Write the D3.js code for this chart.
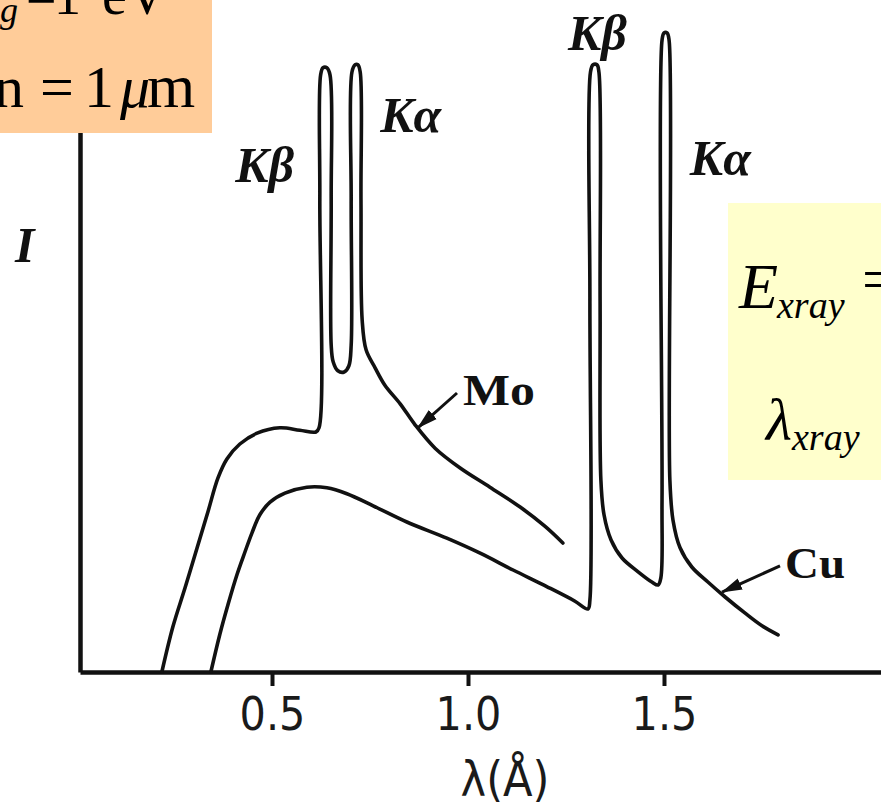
<!DOCTYPE html>
<html><head><meta charset="utf-8">
<script src="https://cdn.jsdelivr.net/npm/d3@7"></script>
<style>html,body{margin:0;padding:0;background:#fff;overflow:hidden}</style>
</head><body>
<svg id="chart" width="881" height="806"></svg>
<script>
// ---- data (wavelength in Å, intensity in arbitrary units) ----
const moSpectrum = [
  [0.219,0],[0.247,7.5],[0.278,14.0],[0.309,20.7],[0.337,26.8],[0.362,32.3],[0.385,35.5],[0.418,38.0],
  [0.462,39.8],[0.520,40.7],[0.571,40.3],[0.612,40.0],[0.620,40.7],[0.622,78.7],[0.624,99.5],[0.630,100.7],
  [0.640,100.7],[0.648,99.5],[0.651,78.7],[0.651,54.5],[0.656,51.7],[0.668,50.2],[0.684,50.0],[0.696,51.0],
  [0.702,54.5],[0.702,78.7],[0.704,100.0],[0.712,101.2],[0.719,101.2],[0.725,100.0],[0.727,78.7],[0.730,58.7],
  [0.740,53.7],[0.763,50.7],[0.788,47.8],[0.827,44.7],[0.865,41.2],[0.916,37.3],[0.980,34.0],[1.056,30.8],
  [1.133,27.5],[1.196,24.3],[1.242,21.5]
];
const cuSpectrum = [
  [0.344,0],[0.367,6.3],[0.388,11.3],[0.411,16.3],[0.431,20.0],[0.449,23.2],[0.469,26.2],[0.495,28.3],
  [0.533,29.8],[0.589,30.8],[0.640,30.7],[0.691,29.7],[0.758,27.7],[0.844,25.0],[0.946,22.3],[1.031,19.8],
  [1.115,17.0],[1.202,14.2],[1.273,11.8],[1.306,10.5],[1.311,12.0],[1.311,62.0],[1.3125,100],[1.319,101.2],
  [1.329,101.2],[1.334,100],[1.337,62.0],[1.339,32.0],[1.347,26.2],[1.365,22.0],[1.393,19.0],[1.434,16.7],
  [1.469,15.0],[1.485,14.5],[1.492,15.7],[1.495,28.7],[1.495,105.3],[1.500,106.5],[1.508,106.5],[1.513,105.3],
  [1.515,32.0],[1.523,25.3],[1.541,20.7],[1.571,17.5],[1.612,15.0],[1.656,12.5],[1.707,9.8],[1.750,7.7],
  [1.791,6.2]
];
const xTicks = [0.5, 1.0, 1.5];
const peakNames = ["Kβ", "Kα", "Kβ", "Kα"];
const seriesNames = ["Mo", "Cu"];

// ---- layout ----
const svg = d3.select("#chart");
const serif = "'Liberation Serif','Times New Roman',serif";
const sans = "'Liberation Sans Narrow','DejaVu Sans Condensed','Liberation Sans',sans-serif";
const x = d3.scaleLinear().domain([0.0102, 2.0536]).range([80, 881]);
const y = d3.scaleLinear().domain([0, 100]).range([672, 72]);
const ink = "#111";

const defs = svg.append("defs");
defs.append("marker").attr("id","ah").attr("markerUnits","userSpaceOnUse")
  .attr("markerWidth",22).attr("markerHeight",14).attr("refX",20).attr("refY",7).attr("orient","auto")
  .append("path").attr("d","M0,1 L21,7 L0,13 Z").attr("fill",ink);

// axes
const gx = svg.append("g").attr("transform","translate(0,672)")
  .call(d3.axisBottom(x).tickValues(xTicks).tickSize(14).tickSizeOuter(0).tickPadding(11).tickFormat(d3.format(".1f")));
gx.select(".domain").attr("stroke",ink).attr("stroke-width",4.5);
gx.selectAll(".tick line").attr("stroke",ink).attr("stroke-width",4);
gx.selectAll(".tick text").attr("fill","#1a1a1a").attr("font-family",sans).attr("font-size",46);

const gy = svg.append("g").attr("transform","translate(80,0)")
  .call(d3.axisLeft(y).tickValues([]).tickSizeOuter(0));
gy.select(".domain").attr("stroke",ink).attr("stroke-width",4.5);

svg.append("text").attr("x",505).attr("y",796).attr("text-anchor","middle")
  .attr("font-family",sans).attr("font-size",48).attr("fill","#1a1a1a").text("λ(Å)");
svg.append("text").attr("x",15).attr("y",262).attr("font-family",serif).attr("font-weight","bold")
  .attr("font-style","italic").attr("font-size",50).attr("fill",ink).text("I");

// spectra
const line = d3.line().x(d=>x(d[0])).y(d=>y(d[1])).curve(d3.curveCatmullRom.alpha(0.5));
[moSpectrum, cuSpectrum].forEach(s => {
  svg.append("path").datum(s).attr("d",line).attr("fill","none").attr("stroke",ink)
    .attr("stroke-width",3.6).attr("stroke-linejoin","round").attr("stroke-linecap","round");
});

// peak labels (anchored in data coordinates)
const peakAnchors = [[0.406,81.7],[0.776,90.0],[1.255,103.7],[1.566,82.8]];
peakNames.forEach((t,i) => {
  svg.append("text").attr("x",x(peakAnchors[i][0])).attr("y",y(peakAnchors[i][1]))
    .attr("font-family",serif).attr("font-weight","bold").attr("font-style","italic")
    .attr("font-size",50).attr("fill",ink).text(t);
});

// series labels with arrows
const seriesLabelAt = [[0.987,44.5],[1.809,15.7]];
const seriesLabelW = [72, 60];
const arrows = [[[0.972,46.5],[0.872,40.7]],[[1.796,17.7],[1.648,13.3]]];
seriesNames.forEach((t,i) => {
  svg.append("text").attr("x",x(seriesLabelAt[i][0])).attr("y",y(seriesLabelAt[i][1]))
    .attr("font-family",serif).attr("font-weight","bold").attr("font-size",44)
    .attr("textLength",seriesLabelW[i]).attr("lengthAdjust","spacingAndGlyphs").attr("fill",ink).text(t);
  svg.append("line").attr("x1",x(arrows[i][0][0])).attr("y1",y(arrows[i][0][1]))
    .attr("x2",x(arrows[i][1][0])).attr("y2",y(arrows[i][1][1]))
    .attr("stroke",ink).attr("stroke-width",3).attr("marker-end","url(#ah)");
});

// orange box (top-left)
svg.append("rect").attr("x",0).attr("y",0).attr("width",212).attr("height",133).attr("fill","#FFCC99");
const ob = svg.append("g").attr("font-family",serif).attr("fill","#000");
ob.append("text").attr("x",-40).attr("y",14).attr("font-size",56).attr("font-style","italic").text("E");
ob.append("text").attr("x",0).attr("y",22).attr("font-size",36).attr("font-style","italic").text("g");
ob.append("text").attr("x",26).attr("y",14).attr("font-size",54).text("=");
ob.append("text").attr("x",54).attr("y",14).attr("font-size",54).text("1");
ob.append("text").attr("x",102).attr("y",14).attr("font-size",56).text("eV");
ob.append("text").attr("x",-6).attr("y",107).attr("font-size",60).text("n");
ob.append("text").attr("x",40).attr("y",107).attr("font-size",60).text("=");
ob.append("text").attr("x",84).attr("y",107).attr("font-size",60).text("1");
ob.append("text").attr("x",120).attr("y",107).attr("font-size",60).attr("font-style","italic").text("μ");
ob.append("text").attr("x",147).attr("y",107).attr("font-size",62).text("m");

// yellow box (right)
svg.append("rect").attr("x",728).attr("y",203).attr("width",160).attr("height",277).attr("fill","#FFFFCC");
const yb = svg.append("g").attr("font-family",serif).attr("fill","#000");
yb.append("text").attr("x",739).attr("y",308).attr("font-size",64).attr("font-style","italic").text("E");
yb.append("text").attr("x",777).attr("y",318).attr("font-size",38).attr("font-style","italic").text("xray");
yb.append("text").attr("x",862).attr("y",300).attr("font-size",62).text("=");
yb.append("text").attr("x",766).attr("y",440).attr("font-size",60).attr("font-style","italic").text("λ");
yb.append("text").attr("x",792).attr("y",450).attr("font-size",38).attr("font-style","italic").text("xray");
</script>
</body></html>
